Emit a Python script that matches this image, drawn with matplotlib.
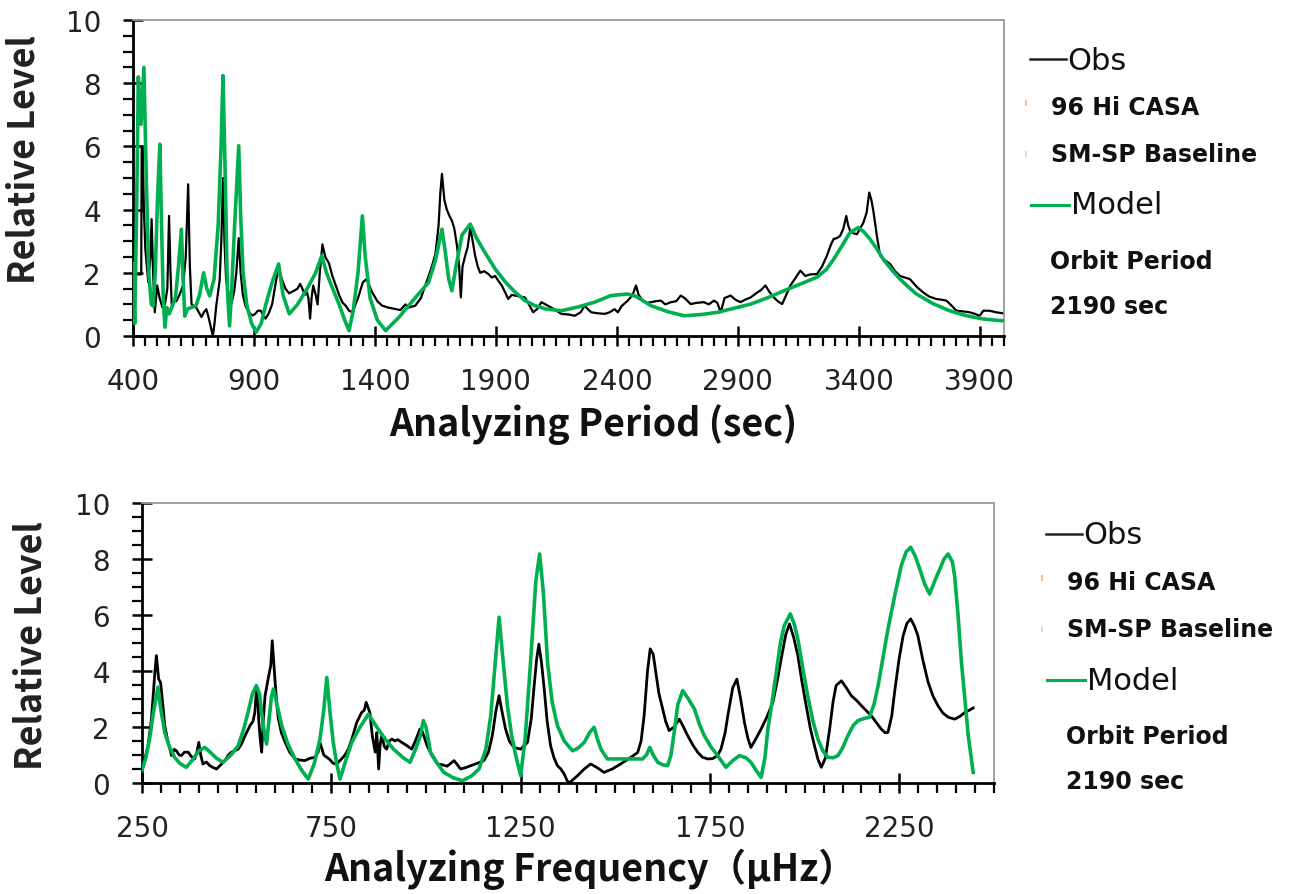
import matplotlib
matplotlib.use("Agg")
import matplotlib.pyplot as plt
from matplotlib.lines import Line2D
from matplotlib.ticker import MultipleLocator

plt.rcParams['font.family'] = ['DejaVu Sans', 'Noto Sans CJK JP']

# ---------------- data: top panel (Analyzing Period, sec) ----------------
top_obs_x = [402, 408, 434, 436, 440, 445, 451, 463, 472, 477, 483, 490, 500, 510, 522, 532, 542, 549, 555, 560,
             570, 579, 592, 607, 618, 628, 635, 642, 661, 672, 683, 693, 703, 712, 724, 730, 737, 744, 758, 765,
             772, 778, 785, 796, 806, 818, 827, 837, 845, 854, 865, 875, 885, 895, 905, 916, 928, 936, 948, 960,
             975, 988, 1002, 1015, 1030, 1045, 1057, 1070, 1080, 1091, 1100, 1110, 1118, 1125, 1132, 1138, 1145, 1155, 1163, 1172,
             1183, 1195, 1210, 1224, 1238, 1252, 1265, 1280, 1293, 1307, 1330, 1350, 1365, 1389, 1410, 1430, 1455, 1485, 1505, 1526,
             1540, 1567, 1590, 1608, 1622, 1636, 1650, 1663, 1670, 1677, 1687, 1697, 1708, 1718, 1728, 1739, 1748, 1755, 1762, 1773,
             1783, 1794, 1804, 1814, 1825, 1835, 1852, 1869, 1883, 1897, 1910, 1924, 1937, 1951, 1965, 1979, 2000, 2020, 2040, 2054,
             2070, 2088, 2105, 2129, 2150, 2171, 2200, 2226, 2250, 2267, 2280, 2294, 2320, 2349, 2370, 2390, 2404, 2420, 2445, 2465,
             2479, 2490, 2507, 2525, 2541, 2560, 2582, 2600, 2623, 2645, 2664, 2680, 2705, 2730, 2760, 2780, 2801, 2815, 2829, 2845,
             2870, 2890, 2911, 2930, 2953, 2975, 2995, 3014, 3030, 3049, 3065, 3083, 3100, 3117, 3135, 3158, 3179, 3200, 3227, 3248,
             3268, 3285, 3296, 3310, 3323, 3336, 3348, 3356, 3364, 3378, 3392, 3405, 3419, 3432, 3443, 3452, 3460, 3474, 3488, 3508,
             3529, 3550, 3570, 3590, 3611, 3640, 3666, 3690, 3721, 3740, 3762, 3785, 3803, 3830, 3858, 3880, 3899, 3915, 3940, 3968,
             3995]
top_obs_y = [2.4, 1.95, 1.95, 6.0, 6.0, 4.0, 2.75, 1.7, 2.5, 3.7, 2.0, 0.75, 1.6, 1.2, 0.9, 1.0, 1.5, 3.8, 2.0, 1.0,
             1.1, 1.1, 1.3, 1.6, 2.5, 4.8, 2.2, 1.0, 0.9, 0.75, 0.6, 0.75, 0.85, 0.6, 0.2, 0.0, 0.4, 0.95, 1.75, 3.0,
             5.0, 3.0, 1.75, 1.3, 1.0, 1.4, 2.0, 3.1, 2.0, 1.3, 0.95, 0.8, 0.7, 0.65, 0.7, 0.8, 0.8, 0.7, 0.55, 0.7,
             1.0, 1.6, 2.2, 1.8, 1.5, 1.35, 1.4, 1.45, 1.5, 1.65, 1.5, 1.3, 1.4, 1.2, 0.55, 1.2, 1.6, 1.3, 1.0, 2.0,
             2.9, 2.5, 2.3, 1.9, 1.6, 1.3, 1.07, 0.95, 0.8, 0.75, 1.2, 1.7, 1.8, 1.38, 1.1, 0.96, 0.9, 0.85, 0.82, 1.0,
             0.9, 0.96, 1.2, 1.6, 1.9, 2.22, 2.6, 3.5, 4.5, 5.13, 4.3, 4.0, 3.8, 3.65, 3.4, 2.86, 2.2, 1.22, 2.2, 2.54,
             2.8, 3.43, 3.0, 2.54, 2.2, 2.0, 2.05, 1.96, 1.85, 1.9, 1.75, 1.6, 1.4, 1.17, 1.3, 1.28, 1.25, 1.22, 0.95, 0.75,
             0.85, 1.07, 1.0, 0.9, 0.8, 0.7, 0.68, 0.64, 0.75, 0.96, 0.85, 0.75, 0.72, 0.7, 0.75, 0.85, 0.75, 0.95, 1.12, 1.3,
             1.6, 1.3, 1.12, 1.05, 1.07, 1.1, 1.12, 1.0, 1.07, 1.1, 1.28, 1.2, 1.01, 1.05, 1.07, 1.0, 1.12, 1.05, 0.75, 1.2,
             1.28, 1.15, 1.07, 1.15, 1.22, 1.35, 1.45, 1.6, 1.4, 1.22, 1.1, 1.01, 1.3, 1.6, 1.8, 2.07, 1.9, 1.95, 1.96, 2.2,
             2.54, 2.9, 3.07, 3.1, 3.17, 3.4, 3.8, 3.5, 3.33, 3.25, 3.22, 3.4, 3.59, 3.9, 4.54, 4.3, 3.96, 3.2, 2.54, 2.4,
             2.28, 2.05, 1.9, 1.85, 1.8, 1.55, 1.38, 1.25, 1.17, 1.15, 1.12, 0.95, 0.8, 0.78, 0.75, 0.7, 0.64, 0.8, 0.8, 0.75,
             0.72]

top_model_x = [400, 407, 415, 422, 433, 445, 455, 465, 476, 483, 492, 502, 511, 518, 525, 532, 540, 550, 560, 575,
               588, 600, 607, 614, 625, 640, 660, 675, 692, 705, 717, 735, 752, 764, 772, 780, 790, 799, 808, 820,
               837, 845, 855, 870, 890, 909, 930, 949, 975, 1002, 1020, 1046, 1080, 1120, 1155, 1180, 1200, 1220, 1252, 1275,
               1293, 1310, 1330, 1348, 1360, 1380, 1410, 1444, 1500, 1560, 1622, 1650, 1677, 1690, 1705, 1718, 1735, 1760, 1794, 1820,
               1850, 1897, 1940, 1979, 2020, 2061, 2110, 2171, 2240, 2308, 2375, 2445, 2480, 2541, 2610, 2678, 2750, 2816, 2885, 2953,
               3020, 3090, 3160, 3227, 3265, 3296, 3330, 3364, 3398, 3420, 3446, 3475, 3501, 3535, 3570, 3605, 3638, 3705, 3775, 3845,
               3913, 3981, 4000]
top_model_y = [2.3, 0.4, 4.0, 8.2, 6.7, 8.5, 5.0, 2.0, 1.0, 0.95, 2.0, 4.5, 6.07, 3.5, 1.2, 0.28, 0.9, 0.7, 0.9, 1.2,
               2.2, 3.38, 1.8, 0.63, 0.85, 0.9, 0.95, 1.3, 2.0, 1.5, 1.27, 1.8, 3.5, 6.0, 8.24, 5.5, 1.5, 0.32, 1.5, 3.5,
               6.02, 3.8, 2.0, 1.0, 0.4, 0.12, 0.4, 1.0, 1.7, 2.28, 1.3, 0.7, 1.0, 1.5, 2.0, 2.54, 2.0, 1.6, 1.0, 0.5,
               0.17, 0.8, 2.0, 3.8, 2.5, 1.2, 0.5, 0.17, 0.6, 1.15, 1.7, 2.4, 3.38, 2.7, 1.8, 1.43, 2.2, 3.2, 3.54, 3.1,
               2.7, 2.12, 1.7, 1.39, 1.12, 0.96, 0.85, 0.8, 0.92, 1.07, 1.28, 1.33, 1.25, 0.96, 0.77, 0.64, 0.68, 0.75, 0.88, 1.01,
               1.2, 1.43, 1.65, 1.86, 2.1, 2.43, 2.85, 3.28, 3.43, 3.3, 3.07, 2.75, 2.43, 2.1, 1.8, 1.55, 1.33, 1.03, 0.8, 0.64,
               0.54, 0.49, 0.48]

# ---------------- data: bottom panel (Analyzing Frequency, uHz) ----------------
bot_obs_x = [250, 258, 266, 275, 284, 288, 294, 299, 305, 310, 317, 322, 328, 335, 341, 348, 354, 362, 372, 380,
             389, 395, 400, 405, 411, 420, 429, 438, 447, 458, 469, 478, 486, 495, 504, 513, 522, 530, 535, 543,
             548, 552, 555, 558, 562, 566, 570, 575, 583, 590, 594, 598, 601, 606, 610, 618, 628, 640, 654, 667,
             680, 693, 707, 715, 720, 730, 745, 755, 764, 777, 786, 795, 805, 817, 830, 837, 842, 847, 852, 858,
             866, 870, 875, 879, 883, 890, 896, 903, 910, 918, 925, 936, 948, 962, 972, 984, 990, 997, 1003, 1015,
             1030, 1043, 1056, 1065, 1074, 1083, 1091, 1105, 1118, 1135, 1153, 1165, 1175, 1185, 1193, 1200, 1210, 1220, 1232, 1250,
             1268, 1278, 1285, 1292, 1298, 1305, 1312, 1320, 1329, 1338, 1347, 1356, 1365, 1372, 1378, 1388, 1400, 1418, 1435, 1452,
             1470, 1492, 1514, 1537, 1559, 1568, 1576, 1585, 1592, 1600, 1607, 1615, 1625, 1633, 1642, 1655, 1669, 1680, 1691, 1705,
             1718, 1730, 1744, 1757, 1770, 1779, 1790, 1797, 1810, 1821, 1831, 1841, 1850, 1858, 1870, 1885, 1900, 1916, 1927, 1938,
             1950, 1960, 1971, 1982, 1993, 2004, 2015, 2026, 2035, 2044, 2055, 2066, 2075, 2083, 2097, 2110, 2123, 2137, 2150, 2163,
             2176, 2190, 2202, 2212, 2220, 2230, 2238, 2249, 2260, 2270, 2280, 2290, 2299, 2312, 2326, 2339, 2352, 2365, 2379, 2396,
             2410, 2423, 2435, 2445]
bot_obs_y = [0.6, 0.9, 1.33, 2.3, 3.95, 4.55, 3.71, 3.6, 2.8, 2.05, 1.57, 1.3, 0.98, 1.2, 1.15, 1.0, 0.98, 1.1, 1.1, 0.95,
             0.86, 1.1, 1.45, 1.0, 0.68, 0.75, 0.62, 0.55, 0.5, 0.65, 0.8, 1.0, 1.1, 1.15, 1.21, 1.4, 1.69, 1.9, 2.05, 2.2,
             2.52, 3.3, 3.4, 2.3, 1.6, 1.1, 2.2, 3.12, 3.71, 4.2, 5.08, 4.3, 3.71, 2.8, 2.3, 1.8, 1.45, 1.1, 0.86, 0.82,
             0.8, 0.88, 0.92, 1.1, 1.45, 1.0, 0.85, 0.7, 0.68, 0.86, 1.0, 1.21, 1.6, 2.16, 2.52, 2.6, 2.88, 2.7, 2.5, 1.7,
             1.1, 1.8, 0.5, 1.4, 1.69, 1.3, 1.21, 1.5, 1.57, 1.5, 1.55, 1.45, 1.35, 1.21, 1.5, 1.93, 1.85, 1.57, 1.33, 1.0,
             0.68, 0.65, 0.6, 0.7, 0.8, 0.65, 0.5, 0.55, 0.62, 0.7, 0.8, 1.1, 1.69, 2.6, 3.12, 2.6, 1.93, 1.5, 1.27, 1.21,
             1.45, 2.3, 3.38, 4.4, 4.96, 4.3, 3.38, 2.2, 1.33, 0.9, 0.62, 0.5, 0.32, 0.1, 0.0, 0.12, 0.26, 0.5, 0.68, 0.55,
             0.38, 0.5, 0.68, 0.88, 1.09, 1.5, 2.4, 4.0, 4.79, 4.6, 3.95, 3.2, 2.64, 2.2, 1.87, 2.0, 2.28, 2.0, 1.69, 1.35,
             1.09, 0.92, 0.86, 0.87, 0.98, 1.21, 1.8, 2.4, 3.4, 3.71, 3.0, 2.16, 1.6, 1.27, 1.55, 1.93, 2.35, 2.88, 3.6, 4.43,
             5.3, 5.68, 5.2, 4.55, 3.6, 2.76, 1.95, 1.33, 0.85, 0.56, 0.9, 1.93, 2.9, 3.48, 3.65, 3.4, 3.12, 2.95, 2.76, 2.58,
             2.4, 2.15, 1.93, 1.8, 1.81, 2.4, 3.3, 4.4, 5.26, 5.7, 5.86, 5.6, 5.26, 4.4, 3.6, 3.1, 2.76, 2.5, 2.35, 2.28,
             2.38, 2.52, 2.6, 2.68]

bot_model_x = [250, 260, 270, 280, 292, 300, 310, 322, 336, 350, 367, 385, 400, 416, 430, 447, 464, 485, 504, 518,
               530, 542, 552, 560, 566, 572, 579, 585, 592, 597, 605, 619, 635, 654, 672, 689, 705, 720, 730, 738,
               746, 755, 764, 773, 788, 804, 826, 848, 870, 892, 915, 940, 958, 975, 985, 993, 1000, 1012, 1030, 1047,
               1070, 1096, 1120, 1140, 1158, 1171, 1183, 1193, 1204, 1215, 1226, 1237, 1250, 1262, 1276, 1290, 1300, 1310, 1321, 1333,
               1347, 1365, 1387, 1402, 1418, 1432, 1444, 1452, 1462, 1479, 1515, 1550, 1572, 1582, 1591, 1600, 1612, 1625, 1638, 1647,
               1656, 1665, 1678, 1693, 1709, 1722, 1735, 1752, 1770, 1792, 1810, 1828, 1845, 1858, 1872, 1885, 1895, 1903, 1914, 1925,
               1936, 1946, 1962, 1972, 1982, 1995, 2008, 2022, 2035, 2048, 2061, 2075, 2088, 2100, 2114, 2128, 2141, 2156, 2171, 2183,
               2194, 2207, 2220, 2238, 2255, 2268, 2280, 2292, 2304, 2317, 2330, 2343, 2357, 2368, 2379, 2390, 2396, 2405, 2414, 2423,
               2432, 2440, 2445]
bot_model_y = [0.45, 0.9, 1.57, 2.5, 3.42, 2.6, 1.81, 1.3, 0.92, 0.7, 0.56, 0.85, 1.15, 1.27, 1.1, 0.88, 0.74, 1.0, 1.33, 1.9,
               2.52, 3.2, 3.48, 3.2, 2.52, 1.9, 1.39, 2.2, 3.1, 3.36, 2.9, 2.05, 1.4, 0.86, 0.45, 0.14, 0.7, 1.57, 2.6, 3.77,
               2.6, 1.45, 0.7, 0.14, 0.8, 1.45, 2.0, 2.46, 2.0, 1.57, 1.2, 0.9, 0.74, 1.3, 1.69, 2.23, 2.0, 1.1, 0.7, 0.38,
               0.2, 0.08, 0.25, 0.5, 1.2, 2.4, 4.3, 5.92, 4.3, 2.76, 1.7, 0.98, 0.26, 1.6, 4.3, 7.2, 8.18, 6.8, 4.31, 2.9,
               2.05, 1.5, 1.15, 1.25, 1.45, 1.8, 1.99, 1.6, 1.21, 0.86, 0.86, 0.86, 0.86, 1.0, 1.27, 1.0, 0.74, 0.65, 0.62, 1.0,
               1.87, 2.8, 3.3, 3.0, 2.64, 2.1, 1.69, 1.3, 0.98, 0.56, 0.8, 0.98, 0.9, 0.74, 0.45, 0.2, 0.9, 1.93, 2.9, 3.95,
               5.0, 5.62, 6.04, 5.7, 5.14, 4.1, 3.12, 2.2, 1.57, 1.15, 0.92, 0.9, 0.98, 1.25, 1.69, 2.05, 2.23, 2.3, 2.35, 2.8,
               3.48, 4.5, 5.5, 6.7, 7.76, 8.25, 8.42, 8.1, 7.64, 7.1, 6.75, 7.2, 7.64, 8.0, 8.18, 7.9, 7.4, 6.0, 4.31, 3.0,
               1.69, 0.9, 0.38]

top_xticks = [400, 900, 1400, 1900, 2400, 2900, 3400, 3900]
bot_xticks = [250, 750, 1250, 1750, 2250]
yticks = [0, 2, 4, 6, 8, 10]

legend_labels = ["Obs", "96 Hi CASA", "SM-SP Baseline", "Model"]
note_lines = ["Orbit Period", "2190 sec"]

GREEN = "#00B050"
W, H = 1297, 895


def fx(px):
    return px / W


def fy(py):
    return 1 - py / H


fig = plt.figure(figsize=(W / 100, H / 100), dpi=100)
fig.patch.set_facecolor("white")

label_font = ['Noto Sans CJK JP', 'DejaVu Sans']


def style_axes(ax, xlim, xticks, ylab_xy):
    ax.set_xlim(*xlim)
    ax.set_ylim(0, 10)
    ax.set_xticks(xticks)
    ax.set_yticks(yticks)
    ax.xaxis.set_minor_locator(MultipleLocator(50))
    ax.yaxis.set_minor_locator(MultipleLocator(0.5))
    for s in ("left", "bottom"):
        ax.spines[s].set_color("black")
        ax.spines[s].set_linewidth(2.0)
    for s in ("top", "right"):
        ax.spines[s].set_color("#9a9a9a")
        ax.spines[s].set_linewidth(1.3)
    ax.tick_params(axis="both", which="major", direction="inout", length=14, width=1.8,
                   labelsize=20, colors="black", labelcolor="#222222")
    ax.tick_params(axis="both", which="minor", direction="out", length=7, width=1.6, colors="black")
    ax.tick_params(axis="x", which="major", pad=15)
    ax.tick_params(axis="y", which="major", pad=16)
    ax.set_ylabel("Relative Level", fontsize=26, fontweight="bold", family=label_font,
                  color="#222222")
    ax.yaxis.set_label_coords(*ylab_xy)
    ax.yaxis.label.set_verticalalignment("center")


# ---------- top panel ----------
ax1 = fig.add_axes([fx(133), fy(337), fx(1004) - fx(133), fy(21) - fy(337)])
ax1.plot(top_obs_x, top_obs_y, color="black", lw=1.6, zorder=2)
ax1.plot(top_model_x, top_model_y, color=GREEN, lw=2.6, zorder=3)
style_axes(ax1, (400, 4000), top_xticks, (-0.125, 0.56))
ax1.set_xlabel("Analyzing Period (sec)", fontsize=27, fontweight="bold", family=label_font,
               color="#111111")
ax1.xaxis.set_label_coords(0.528, -0.278)
ax1.xaxis.label.set_verticalalignment("center")

# ---------- bottom panel ----------
ax2 = fig.add_axes([fx(142), fy(784), fx(994) - fx(142), fy(504) - fy(784)])
ax2.plot(bot_obs_x, bot_obs_y, color="black", lw=2.0, zorder=2)
ax2.plot(bot_model_x, bot_model_y, color=GREEN, lw=2.6, zorder=3)
style_axes(ax2, (250, 2500), bot_xticks, (-0.13, 0.493))
ax2.set_xlabel("Analyzing Frequency（μHz）", fontsize=27, fontweight="bold", family=label_font,
               color="#111111")
ax2.xaxis.set_label_coords(0.526, -0.305)
ax2.xaxis.label.set_verticalalignment("center")


# ---------- legends (drawn as figure text) ----------
def draw_legend(x0, y0):
    # x0, y0: pixel position of the Obs line start
    fig.add_artist(Line2D([fx(x0), fx(x0 + 36)], [fy(y0), fy(y0)], color="#222222", lw=1.8,
                          transform=fig.transFigure))
    fig.text(fx(x0 + 37), fy(y0 + 1), legend_labels[0], fontsize=22, va="center", ha="left", color="#111111")
    fig.add_artist(Line2D([fx(x0 - 4)], [fy(y0 + 44)], marker="|", ms=5, mew=1.2, color="#F4B183",
                          transform=fig.transFigure))
    fig.text(fx(x0 + 21), fy(y0 + 48), legend_labels[1], fontsize=17, fontweight="bold", va="center",
             ha="left", color="#111111")
    fig.add_artist(Line2D([fx(x0 - 4)], [fy(y0 + 95)], marker="|", ms=5, mew=1.2, color="#F8CBAD",
                          transform=fig.transFigure))
    fig.text(fx(x0 + 21), fy(y0 + 95), legend_labels[2], fontsize=17, fontweight="bold", va="center",
             ha="left", color="#111111")
    fig.add_artist(Line2D([fx(x0 + 1), fx(x0 + 39)], [fy(y0 + 146), fy(y0 + 146)], color=GREEN, lw=2.2,
                          transform=fig.transFigure))
    fig.text(fx(x0 + 41), fy(y0 + 146), legend_labels[3], fontsize=22, va="center", ha="left",
             color="#111111")
    fig.text(fx(x0 + 20), fy(y0 + 202), note_lines[0], fontsize=17, fontweight="bold", va="center",
             ha="left", color="#111111")
    fig.text(fx(x0 + 20), fy(y0 + 247), note_lines[1], fontsize=17, fontweight="bold", va="center",
             ha="left", color="#111111")


draw_legend(1030, 60)
draw_legend(1046, 535)

fig.savefig("out.png", dpi=100, facecolor="white")
